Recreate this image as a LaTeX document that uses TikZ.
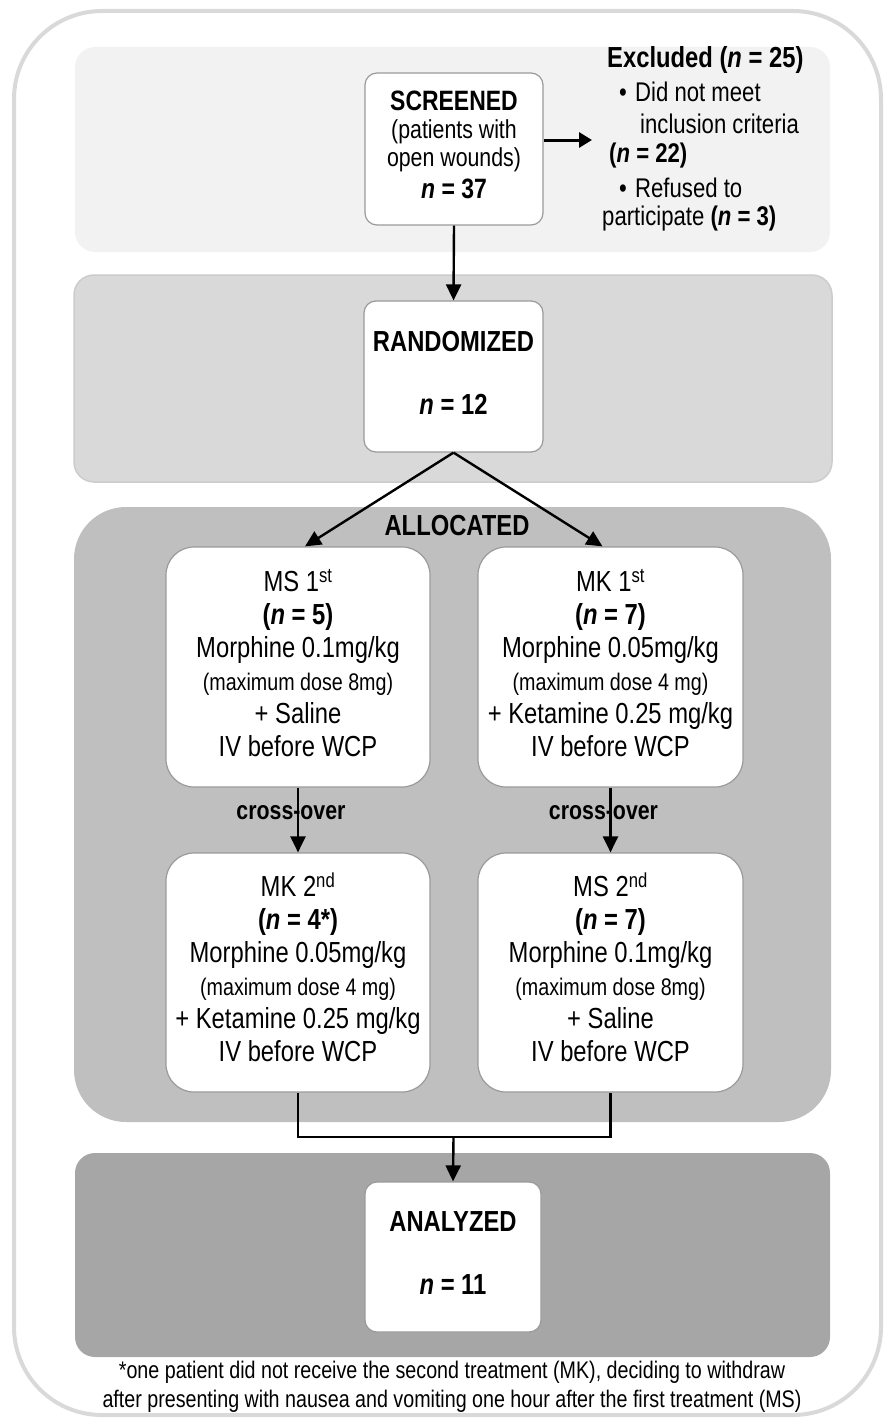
\documentclass[tikz,border=0pt]{standalone}
\usepackage{fontspec}
\setmainfont{Liberation Sans}[FakeStretch=0.82]
\usetikzlibrary{arrows.meta,calc}
\definecolor{framec}{HTML}{D9D9D9}
\definecolor{pone}{HTML}{F2F2F2}
\definecolor{ptwo}{HTML}{D9D9D9}
\definecolor{ptwob}{HTML}{CCCCCC}
\definecolor{pthree}{HTML}{BFBFBF}
\definecolor{pfour}{HTML}{A6A6A6}
\definecolor{boxb}{HTML}{9A9A9A}
\newcommand{\fmain}{\fontsize{29}{33}\selectfont}
\newcommand{\fsmall}{\fontsize{24}{28}\selectfont}
\newcommand{\fhead}{\fontsize{29}{32}\selectfont}
\newcommand{\fscr}{\fontsize{28}{28}\selectfont}
\newcommand{\fscrr}{\fontsize{26}{28}\selectfont}
\newcommand{\flist}{\fontsize{27}{30}\selectfont}
\newcommand{\fcross}{\fontsize{26}{30}\selectfont}
\newcommand{\fnote}{\fontsize{24}{29}\selectfont}
\begin{document}
\begin{tikzpicture}[x=1pt,y=-1pt,
  flowbox/.style={draw=boxb, line width=1.2pt, fill=white, inner sep=0pt, align=center},
  arr/.style={line width=2.4pt, -{Triangle[length=16pt,width=15pt]}},
  conn/.style={line width=2.4pt},
  exline/.style={anchor=base west, inner sep=0pt, font=\flist},
  crosslbl/.style={font=\fcross\bfseries, inner sep=0pt, xshift=-7pt, yshift=7pt}]
\useasboundingbox (0,0) rectangle (883,1418);
% outer frame
\draw[framec, line width=4pt, rounded corners=88pt] (14,11) rectangle (881,1415);
% panels
\fill[pone, rounded corners=20pt] (75,47) rectangle (830,252);
\filldraw[fill=ptwo, draw=ptwob, line width=1.5pt, rounded corners=20pt] (74,275) rectangle (832,482);
\fill[pthree, rounded corners=52pt] (74,507) rectangle (831,1122);
\fill[pfour, rounded corners=20pt] (75,1153) rectangle (830,1357);

% boxes
\node[flowbox, rounded corners=12pt, minimum width=178pt, minimum height=152pt, font=\fscr] (scr) at (454,149)
  {\begin{tabular}{@{}c@{}}\textbf{SCREENED}\\ {\fscrr (patients with}\\ {\fscrr open wounds)}\\[4pt] \textbf{\textit{n} = 37}\end{tabular}};
\node[flowbox, rounded corners=12pt, minimum width=179pt, minimum height=151pt, font=\fhead] (ran) at (453.5,376.5)
  {\begin{tabular}{@{}c@{}}\textbf{RANDOMIZED}\\[31pt] \textbf{\textit{n} = 12}\end{tabular}};
\node[flowbox, rounded corners=28pt, minimum width=264pt, minimum height=240pt, font=\fmain] (ms1) at (298,667)
  {\begin{tabular}{@{}c@{}}MS 1\textsuperscript{st}\\ \textbf{(\textit{n} = 5)}\\ Morphine 0.1mg/kg\\ {\fsmall (maximum dose 8mg)}\\ + Saline\\ IV before WCP\end{tabular}};
\node[flowbox, rounded corners=28pt, minimum width=265pt, minimum height=240pt, font=\fmain] (mk1) at (610.5,667)
  {\begin{tabular}{@{}c@{}}MK 1\textsuperscript{st}\\ \textbf{(\textit{n} = 7)}\\ Morphine 0.05mg/kg\\ {\fsmall (maximum dose 4 mg)}\\ + Ketamine 0.25 mg/kg\\ IV before WCP\end{tabular}};
\node[flowbox, rounded corners=28pt, minimum width=264pt, minimum height=239pt, font=\fmain] (mk2) at (298,972.5)
  {\begin{tabular}{@{}c@{}}MK 2\textsuperscript{nd}\\ \textbf{(\textit{n} = 4*)}\\ Morphine 0.05mg/kg\\ {\fsmall (maximum dose 4 mg)}\\ + Ketamine 0.25 mg/kg\\ IV before WCP\end{tabular}};
\node[flowbox, rounded corners=28pt, minimum width=265pt, minimum height=239pt, font=\fmain] (ms2) at (610.5,972.5)
  {\begin{tabular}{@{}c@{}}MS 2\textsuperscript{nd}\\ \textbf{(\textit{n} = 7)}\\ Morphine 0.1mg/kg\\ {\fsmall (maximum dose 8mg)}\\ + Saline\\ IV before WCP\end{tabular}};
\node[flowbox, rounded corners=12pt, minimum width=176pt, minimum height=150pt, font=\fhead] (ana) at (453,1257)
  {\begin{tabular}{@{}c@{}}\textbf{ANALYZED}\\[31pt] \textbf{\textit{n} = 11}\end{tabular}};

% labels
\node[anchor=base, inner sep=0pt, font=\fhead\bfseries] (alloc) at (457,535) {ALLOCATED};
\node[exline, font=\fhead\bfseries] (ex1) at (607,68) {Excluded (\textit{n} = 25)};
\node[exline] (ex2) at (619,102) {\makebox[16pt][l]{\textbullet}Did not meet};
\node[exline] (ex3) at (640,133) {inclusion criteria};
\node[exline] (ex4) at (609,162) {\textbf{(\textit{n} = 22)}};
\node[exline] (ex5) at (619,197) {\makebox[16pt][l]{\textbullet}Refused to};
\node[exline] (ex6) at (602,225) {participate \textbf{(\textit{n} = 3)}};
\node[anchor=base, inner sep=0pt, font=\fnote] (note) at (452,1378)
  {\begin{tabular}[t]{@{}c@{}}*one patient did not receive the second treatment (MK), deciding to withdraw\\ after presenting with nausea and vomiting one hour after the first treatment (MS)\end{tabular}};

% connectors
\coordinate (exend) at (592,140);
\draw[line width=3pt, -{Triangle[length=13pt,width=15pt]}] ([yshift=9pt]scr.east) -- (exend);
\draw[arr] (scr.south) -- (ran.north);
\draw[arr] (ran.south) -- ($(ms1.north)+(7,0)$);
\draw[arr] (ran.south) -- ($(mk1.north)+(-8,0)$);
\draw[arr] (ms1.south) -- node[crosslbl, midway] {cross-over} (mk2.north);
\draw[arr] (mk1.south) -- node[crosslbl, midway] {cross-over} (ms2.north);
\coordinate (join) at (453.5,1137);
\draw[conn] (mk2.south) |- (join) -| (ms2.south);
\draw[arr] (join) -- (ana.north);
\end{tikzpicture}
\end{document}
